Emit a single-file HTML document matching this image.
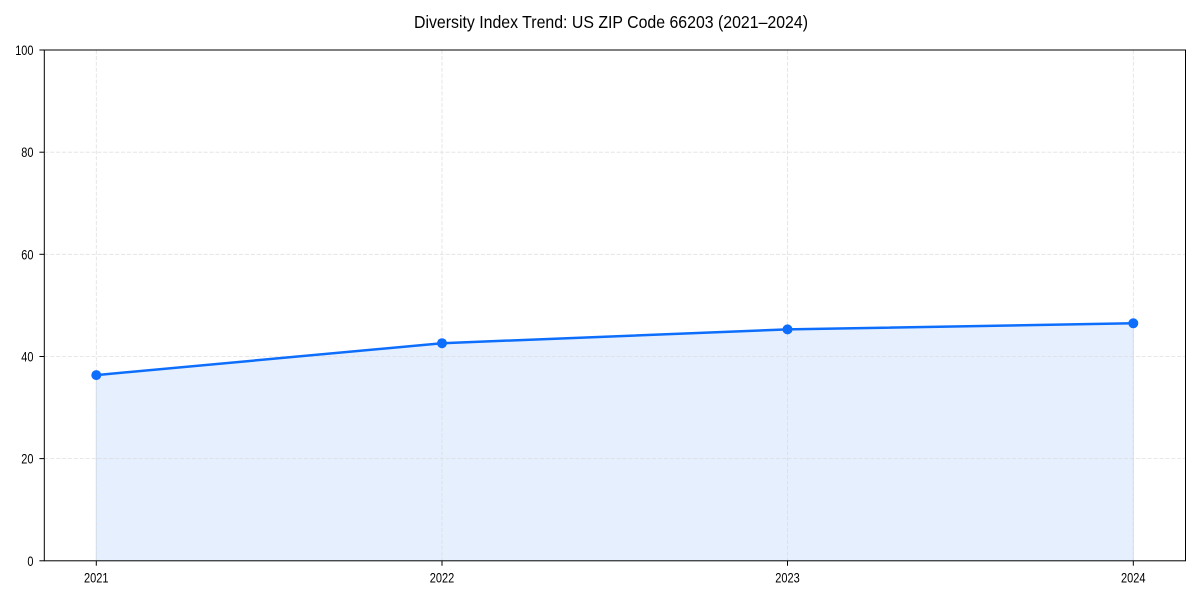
<!DOCTYPE html>
<html><head><meta charset="utf-8"><style>
html,body{margin:0;padding:0;background:#fff;}
svg{display:block;}
text{font-family:"Liberation Sans",Arial,sans-serif;fill:#000;}
</style></head><body>
<svg width="1200" height="600" viewBox="0 0 1200 600" xmlns="http://www.w3.org/2000/svg">
<rect width="1200" height="600" fill="#fff"/>
<text x="611" y="28" font-size="17.5" text-anchor="middle" textLength="394" lengthAdjust="spacingAndGlyphs">Diversity Index Trend: US ZIP Code 66203 (2021–2024)</text>
<!-- fill -->
<polygon points="96.3,560.8 96.3,375.1 442,343.2 787.5,329.4 1133.3,323.3 1133.3,560.8" fill="#e6effd"/>
<line x1="96.3" y1="375.1" x2="96.3" y2="560.8" stroke="#cfdff7" stroke-width="1"/>
<line x1="1133.3" y1="323.3" x2="1133.3" y2="560.8" stroke="#cfdff7" stroke-width="1"/>
<!-- grid -->
<g stroke="#d9d9d9" stroke-width="0.8" stroke-dasharray="4.1,1.8" opacity="0.8">
<line x1="44.3" y1="458.6" x2="1185.5" y2="458.6"/>
<line x1="44.3" y1="356.5" x2="1185.5" y2="356.5"/>
<line x1="44.3" y1="254.3" x2="1185.5" y2="254.3"/>
<line x1="44.3" y1="152.2" x2="1185.5" y2="152.2"/>
<line x1="96.3" y1="50" x2="96.3" y2="560.8"/>
<line x1="442" y1="50" x2="442" y2="560.8"/>
<line x1="787.5" y1="50" x2="787.5" y2="560.8"/>
<line x1="1133.3" y1="50" x2="1133.3" y2="560.8"/>
</g>
<!-- line -->
<polyline points="96.3,375.1 442,343.2 787.5,329.4 1133.3,323.3" fill="none" stroke="#0d6efd" stroke-width="2.5" stroke-linejoin="round"/>
<g fill="#0d6efd">
<circle cx="96.3" cy="375.1" r="5"/>
<circle cx="442" cy="343.2" r="5"/>
<circle cx="787.5" cy="329.4" r="5"/>
<circle cx="1133.3" cy="323.3" r="5"/>
</g>
<!-- axes -->
<rect x="44.3" y="50" width="1141.2" height="510.8" fill="none" stroke="#000" stroke-width="1"/>
<g stroke="#000" stroke-width="1">
<line x1="39.4" y1="560.8" x2="44.3" y2="560.8"/>
<line x1="39.4" y1="458.6" x2="44.3" y2="458.6"/>
<line x1="39.4" y1="356.5" x2="44.3" y2="356.5"/>
<line x1="39.4" y1="254.3" x2="44.3" y2="254.3"/>
<line x1="39.4" y1="152.2" x2="44.3" y2="152.2"/>
<line x1="39.4" y1="50" x2="44.3" y2="50"/>
<line x1="96.3" y1="560.8" x2="96.3" y2="565.7"/>
<line x1="442" y1="560.8" x2="442" y2="565.7"/>
<line x1="787.5" y1="560.8" x2="787.5" y2="565.7"/>
<line x1="1133.3" y1="560.8" x2="1133.3" y2="565.7"/>
</g>
<g font-size="14" text-anchor="end">
<text x="33.5" y="565.8" textLength="6.1" lengthAdjust="spacingAndGlyphs">0</text>
<text x="33.5" y="463.6" textLength="12.2" lengthAdjust="spacingAndGlyphs">20</text>
<text x="33.5" y="361.5" textLength="12.2" lengthAdjust="spacingAndGlyphs">40</text>
<text x="33.5" y="259.3" textLength="12.2" lengthAdjust="spacingAndGlyphs">60</text>
<text x="33.5" y="157.2" textLength="12.2" lengthAdjust="spacingAndGlyphs">80</text>
<text x="33.5" y="55" textLength="18.3" lengthAdjust="spacingAndGlyphs">100</text>
</g>
<g font-size="14" text-anchor="middle">
<text x="96.3" y="582.3" textLength="24.5" lengthAdjust="spacingAndGlyphs">2021</text>
<text x="442" y="582.3" textLength="24.5" lengthAdjust="spacingAndGlyphs">2022</text>
<text x="787.5" y="582.3" textLength="24.5" lengthAdjust="spacingAndGlyphs">2023</text>
<text x="1133.3" y="582.3" textLength="24.5" lengthAdjust="spacingAndGlyphs">2024</text>
</g>
</svg>
</body></html>
